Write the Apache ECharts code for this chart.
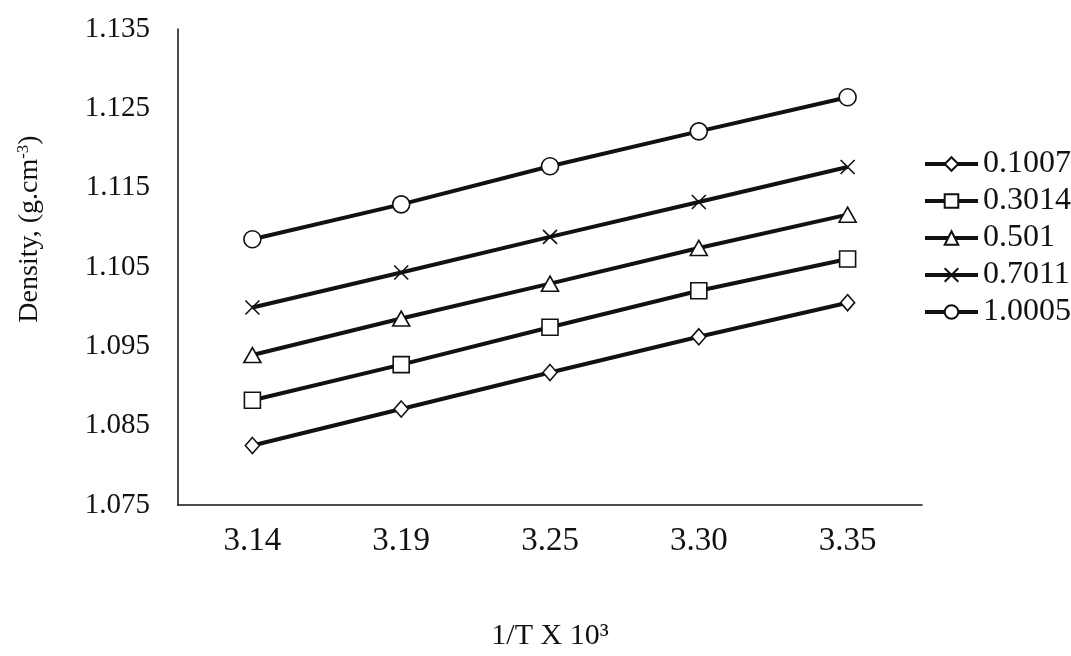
<!DOCTYPE html>
<html>
<head>
<meta charset="utf-8">
<script src="https://cdn.jsdelivr.net/npm/echarts@6/dist/echarts.min.js"></script>
<style>html,body{margin:0;padding:0;background:#fff;}#c{width:1071px;height:656px;}</style>
</head>
<body>
<div id="c"></div>
<script>
const categories = ['3.14', '3.19', '3.25', '3.30', '3.35'];
const seriesNames = ['0.1007', '0.3014', '0.501', '0.7011', '1.0005'];
const s01007 = [1.0825, 1.0871, 1.0917, 1.0962, 1.1005];
const s03014 = [1.0882, 1.0927, 1.0974, 1.1020, 1.1060];
const s0501  = [1.0939, 1.0985, 1.1029, 1.1074, 1.1116];
const s07011 = [1.0999, 1.1043, 1.1088, 1.1132, 1.1176];
const s10005 = [1.1085, 1.1129, 1.1177, 1.1221, 1.1264];
const yMin = 1.075, yMax = 1.135, yStep = 0.005;

const seriesData = [s01007, s03014, s0501, s07011, s10005];
const symbols = ['diamond', 'rect', 'triangle', 'path://M0,0L10,10M10,0L0,10', 'circle'];
const sizes = [[14, 16], 16, [17, 15], 14, 17];

const font = 'Liberation Serif, Times New Roman, serif';
const chart = echarts.init(document.getElementById('c'));
chart.setOption({
  animation: false,
  backgroundColor: '#fff',
  grid: { left: 178, right: 149, top: 29, bottom: 151 },
  legend: {
    orient: 'vertical', left: 918, top: 143,
    itemWidth: 53, itemHeight: 17, itemGap: 5,
    lineStyle: { width: 4, color: '#111' },
    textStyle: { fontFamily: font, fontSize: 32, color: '#111', lineHeight: 31 },
    data: seriesNames
  },
  xAxis: {
    type: 'category', data: categories, boundaryGap: true,
    axisLine: { lineStyle: { color: '#111', width: 1.5 } },
    axisTick: { show: false },
    axisLabel: { fontFamily: font, fontSize: 33, color: '#111', margin: 20 },
    name: '1/T X 10³', nameLocation: 'middle', nameGap: 116,
    nameTextStyle: { fontFamily: font, fontSize: 30, color: '#111' }
  },
  yAxis: {
    type: 'value', min: yMin, max: yMax, interval: yStep,
    axisLine: { show: true, lineStyle: { color: '#111', width: 1.5 } },
    axisTick: { show: false },
    splitLine: { show: false },
    axisLabel: {
      fontFamily: font, fontSize: 29, color: '#111', margin: 28,
      formatter: function (v) { return Math.round(v * 1000) % 10 === 5 ? v.toFixed(3) : ''; }
    },
    name: 'Density, (g.cm{sup|-3})', nameLocation: 'middle', nameGap: 134,
    nameTextStyle: {
      fontFamily: font, fontSize: 28, color: '#111', padding: [0, 0, 0, 76],
      rich: { sup: { fontFamily: font, fontSize: 17, color: '#111', verticalAlign: 'top', padding: [0, 0, 12, 0] } }
    }
  },
  series: seriesNames.map(function (n, i) {
    return {
      name: n, type: 'line', data: seriesData[i],
      symbol: symbols[i], symbolSize: sizes[i], showAllSymbol: true,
      lineStyle: { color: '#111', width: 4 },
      itemStyle: { color: '#fff', borderColor: '#111', borderWidth: 1.6 },
      z: 2
    };
  })
});
</script>
</body>
</html>
